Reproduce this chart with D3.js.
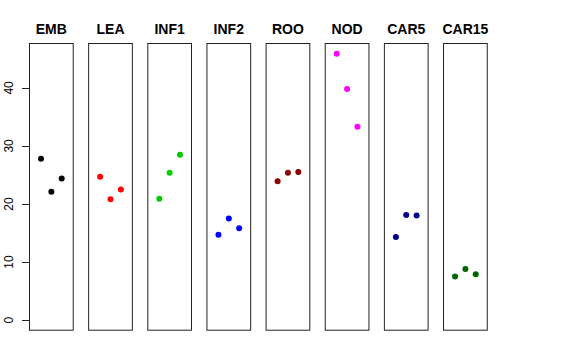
<!DOCTYPE html>
<html>
<head>
<meta charset="utf-8">
<script src="https://cdn.jsdelivr.net/npm/d3@7"></script>
<style>
body{margin:0;background:#fff;}
svg{display:block;}
</style>
</head>
<body>
<script>
const categories = ["EMB","LEA","INF1","INF2","ROO","NOD","CAR5","CAR15"];
const colors = ["#000000","#FF0000","#00CD00","#0000FF","#8B0000","#FF00FF","#00008B","#006400"];
const rep1 = [27.8, 24.7, 20.9, 14.7, 23.9, 45.9, 14.3, 7.5];
const rep2 = [22.1, 20.8, 25.4, 17.5, 25.4, 39.8, 18.1, 8.8];
const rep3 = [24.4, 22.5, 28.5, 15.8, 25.5, 33.3, 18.0, 7.9];
const yTicks = [0, 10, 20, 30, 40];

const W = 576, H = 360;
const svg = d3.select("body").append("svg").attr("width", W).attr("height", H);

const ymax = d3.max([...rep1, ...rep2, ...rep3]);
const ymin = 0;
const ext = (ymax - ymin) * 0.04;
const y = d3.scaleLinear().domain([ymin - ext, ymax + ext]).range([330.7, 43]);

const band = d3.scaleBand().domain(categories).range([29, 487.75]).paddingInner(0.244).paddingOuter(0);
const inner = d3.scaleLinear().domain([-0.16, 4.16]).range([0, band.bandwidth()]);

const font = "'Liberation Sans', Arial, Helvetica, sans-serif";

categories.forEach((c, i) => {
  const g = svg.append("g").attr("transform", `translate(${band(c)},0)`);
  g.append("rect")
    .attr("x", 0.5).attr("y", y.range()[1] + 0.5)
    .attr("width", band.bandwidth() - 1)
    .attr("height", y.range()[0] - y.range()[1] - 1)
    .attr("fill", "none").attr("stroke", "#222").attr("stroke-width", 1);
  const vals = [rep1[i], rep2[i], rep3[i]];
  g.selectAll("circle").data(vals).join("circle")
    .attr("cx", (d, j) => inner(j + 1))
    .attr("cy", d => y(d))
    .attr("r", 3)
    .attr("fill", colors[i]);
  g.append("text")
    .attr("x", band.bandwidth() / 2).attr("y", 34)
    .attr("text-anchor", "middle")
    .attr("font-family", font).attr("font-weight", "bold").attr("font-size", 14)
    .text(c);
});

// y axis (R style)
const ax = svg.append("g").attr("transform", `translate(${band(categories[0]) + 0.5},0)`);
ax.append("line")
  .attr("x1", 0).attr("x2", 0)
  .attr("y1", y(yTicks[0])).attr("y2", y(yTicks[yTicks.length - 1]))
  .attr("stroke", "#222");
ax.selectAll("line.tick").data(yTicks).join("line").attr("class", "tick")
  .attr("x1", -7.5).attr("x2", 0)
  .attr("y1", d => Math.round(y(d)) + 0.5).attr("y2", d => Math.round(y(d)) + 0.5)
  .attr("stroke", "#222");
ax.selectAll("text").data(yTicks).join("text")
  .attr("transform", d => `translate(-17,${y(d)}) rotate(-90)`)
  .attr("text-anchor", "middle")
  .attr("font-family", font).attr("font-size", 12)
  .attr("fill", "#000")
  .text(d => d);
</script>
</body>
</html>
